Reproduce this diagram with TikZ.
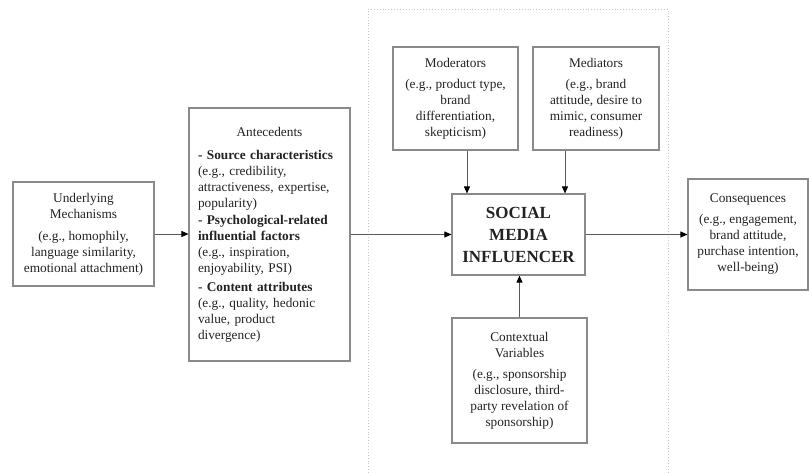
\documentclass[tikz,border=0pt]{standalone}
\usepackage{fontspec}
\setmainfont{Liberation Serif}
\usetikzlibrary{arrows.meta}
\definecolor{boxgray}{HTML}{8A8A8A}
\definecolor{linegray}{HTML}{5A5A5A}
\definecolor{txt}{HTML}{222222}
\definecolor{framegray}{HTML}{C8C8C8}
\newcommand\fsnorm{\fontsize{13.3}{16}\selectfont}
\newcommand\fsbig{\fontsize{17}{22}\selectfont\bfseries}
\begin{document}
\begin{tikzpicture}[x=1pt,y=-1pt,
  box/.style={draw=boxgray, line width=1.1pt, inner sep=0pt, font=\fsnorm, text=txt, align=center},
  conn/.style={draw=linegray, line width=0.9pt, -{Triangle[length=7pt,width=6pt,color=black]}}
]
\useasboundingbox (0,0) rectangle (809,473);
% dotted frame
\draw[framegray, dotted, line width=0.9pt] (368,473) -- (368,9) -- (668,9) -- (668,473);

\node[box, minimum width=141pt, minimum height=104pt] (und) at (83.5,234)
  {Underlying\\Mechanisms\\[6pt](e.g., homophily,\\language similarity,\\emotional attachment)};

\node[box, text width=143pt, inner xsep=9pt, minimum height=253pt, align=left] (ant) at (269.5,234.5)
  {\makebox[143pt]{Antecedents}\\[7pt]
   \textbf{- Source characteristics}\\
   (e.g., credibility,\\attractiveness, expertise,\\popularity)\\[1pt]
   \textbf{- Psychological-related}\\\textbf{influential factors}\\
   (e.g., inspiration,\\enjoyability, PSI)\\[3pt]
   \textbf{- Content attributes}\\
   (e.g., quality, hedonic\\value, product\\divergence)};

\node[box, font=\fsbig, minimum width=133pt, minimum height=81pt] (smi) at (518.5,234.5)
  {SOCIAL\\MEDIA\\INFLUENCER};

\node[box, minimum width=125pt, minimum height=103pt] (mod) at (455.5,98.5)
  {Moderators\\[5pt](e.g., product type,\\brand\\differentiation,\\skepticism)};

\node[box, minimum width=126pt, minimum height=103pt] (med) at (596,98.5)
  {Mediators\\[5pt](e.g., brand\\attitude, desire to\\mimic, consumer\\readiness)};

\node[box, minimum width=135pt, minimum height=125pt] (ctx) at (519.5,380.5)
  {Contextual\\Variables\\[5pt](e.g., sponsorship\\disclosure, third-\\party revelation of\\sponsorship)};

\node[box, minimum width=120pt, minimum height=111pt] (con) at (748,234.5)
  {Consequences\\[5pt](e.g., engagement,\\brand attitude,\\purchase intention,\\well-being)};

\coordinate (modx) at (467,0);
\coordinate (medx) at (565,0);

\draw[conn] (und.east) -- (und.east -| ant.west);
\draw[conn] (ant.east |- smi.west) -- (smi.west);
\draw[conn] (smi.east) -- (smi.east -| con.west);
\draw[conn] (mod.south -| modx) -- (smi.north -| modx);
\draw[conn] (med.south -| medx) -- (smi.north -| medx);
\draw[conn] (ctx.north) -- (ctx.north |- smi.south);
\end{tikzpicture}
\end{document}
